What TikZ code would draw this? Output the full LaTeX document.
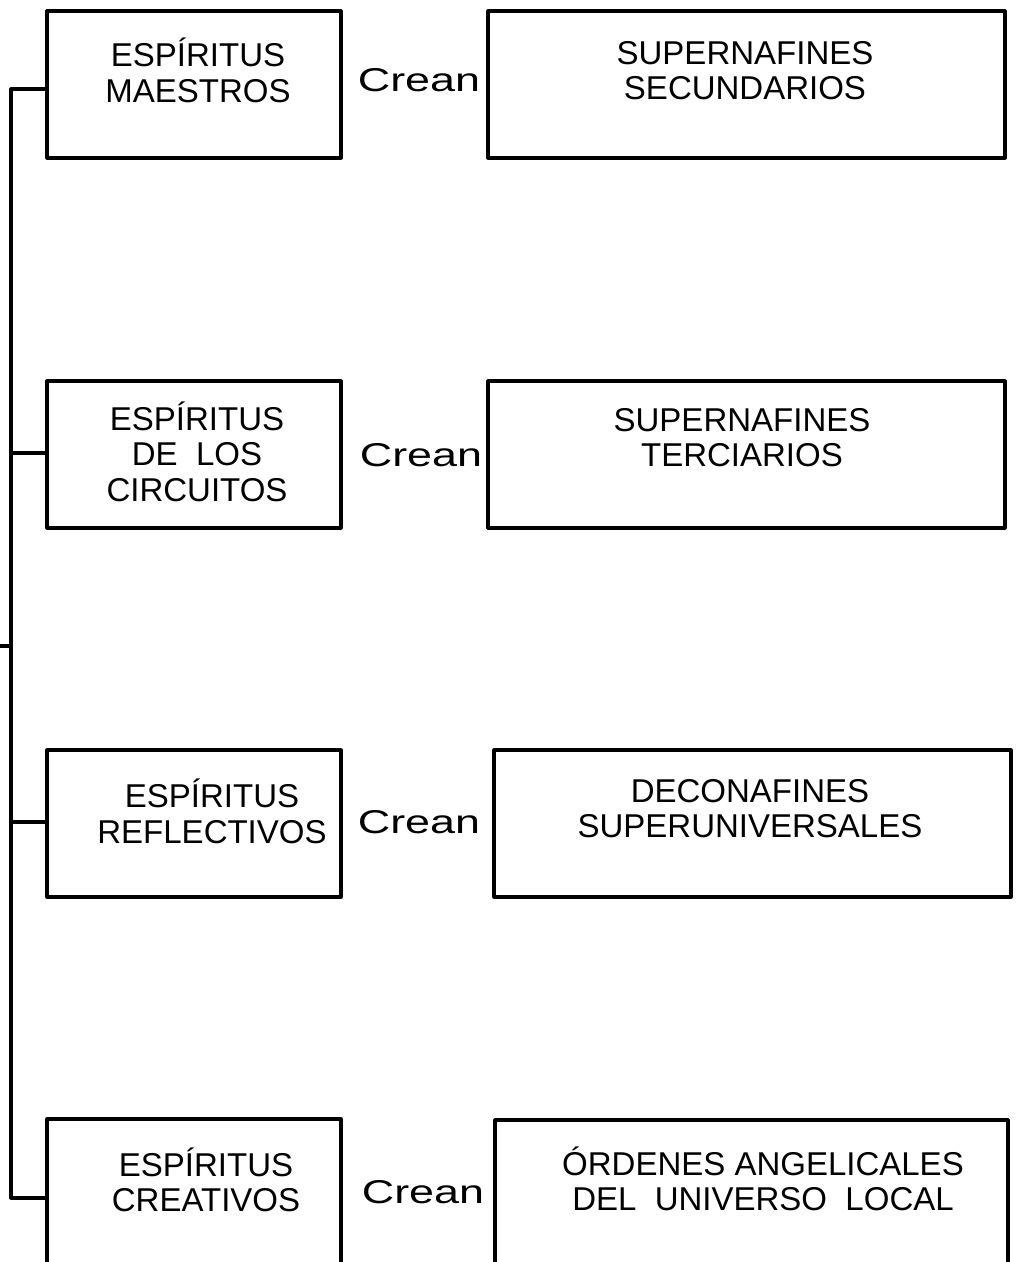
\documentclass[tikz,border=0pt]{standalone}
\usepackage{fontspec}
\setmainfont{Liberation Sans}
\begin{document}
\begin{tikzpicture}[x=1pt,y=-1pt,
  box/.style={draw,line width=3.2pt,line join=round,rectangle,inner sep=0pt,outer sep=0pt},
  lbl/.style={align=center,inner sep=0pt,font=\fontsize{33}{35.5}\selectfont},
  crean/.style={inner sep=0pt,font=\fontsize{33}{35}\selectfont,xscale=1.36},
  conn/.style={line width=3.2pt,line join=round}]
\clip (0,0) rectangle (1017,1262);
% left boxes
\node[box,minimum width=294pt,minimum height=147pt] (L1) at (194,84.5) {};
\node[box,minimum width=294pt,minimum height=147pt] (L2) at (194,454.5) {};
\node[box,minimum width=294pt,minimum height=147pt] (L3) at (194,823.5) {};
\node[box,minimum width=294pt,minimum height=180pt] (L4) at (194,1209) {};
% right boxes
\node[box,minimum width=517pt,minimum height=147pt] (R1) at (746.5,84.5) {};
\node[box,minimum width=517pt,minimum height=147pt] (R2) at (746.5,454.5) {};
\node[box,minimum width=517pt,minimum height=147pt] (R3) at (752.5,823.5) {};
\node[box,minimum width=513pt,minimum height=180pt] (R4) at (751.5,1210) {};
% texts
\node[lbl] (tL1) at (198,70.5) {ESPÍRITUS\\MAESTROS};
\node[lbl] (tL2) at (197,451.5) {ESPÍRITUS\\DE\ \ LOS\\CIRCUITOS};
\node[lbl] (tL3) at (212,811.5) {ESPÍRITUS\\REFLECTIVOS};
\node[lbl] (tL4) at (206,1180) {ESPÍRITUS\\CREATIVOS};
\node[lbl] (tR1) at (745,70.5) {SUPERNAFINES\\SECUNDARIOS};
\node[lbl] (tR2) at (742,437.5) {SUPERNAFINES\\TERCIARIOS};
\node[lbl] (tR3) at (750,808.5) {DECONAFINES\\SUPERUNIVERSALES};
\node[lbl] (tR4) at (763,1179) {ÓRDENES ANGELICALES\\DEL\ \ UNIVERSO\ \ LOCAL};
% Crean labels
\node[crean] (c1) at (419,80) {Crean};
\node[crean] (c2) at (421,455) {Crean};
\node[crean] (c3) at (419,822) {Crean};
\node[crean] (c4) at (423,1192) {Crean};
% bracket
\coordinate (t1) at (11,89);
\coordinate (t2) at (11,453);
\coordinate (t3) at (11,822);
\coordinate (t4) at (11,1198);
\coordinate (s) at (0,646);
\draw[conn] (t1 -| L1.west) -- (t1) -- (t4) -- (t4 -| L4.west);
\draw[conn] (t2) -- (t2 -| L2.west);
\draw[conn] (t3) -- (t3 -| L3.west);
\draw[conn] (s) -- (s -| t1);
\end{tikzpicture}
\end{document}
